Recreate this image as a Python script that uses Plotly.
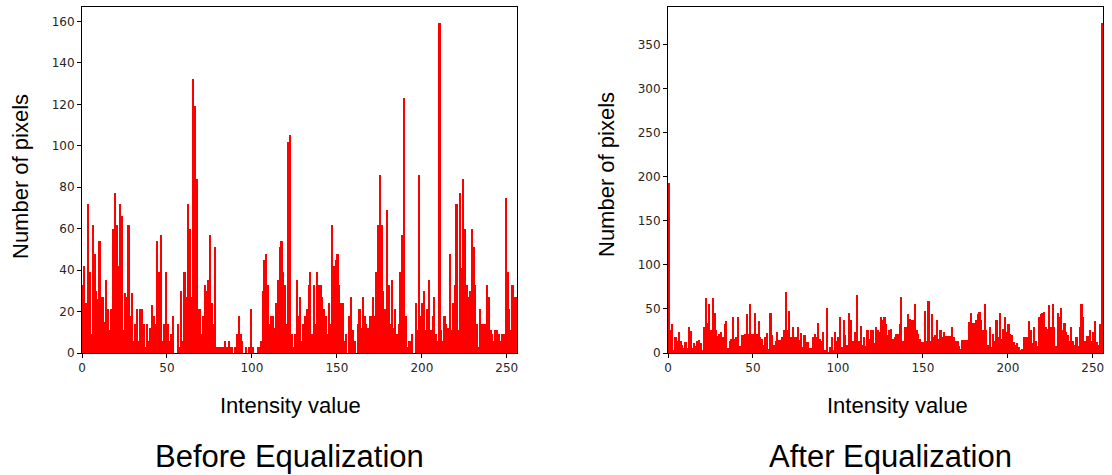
import numpy as np
import plotly.graph_objects as go

# Pixel-count histograms of an 8-bit image, one count per intensity level 0..255
intensity = np.arange(256)

before_counts = [
    33, 42, 24, 72, 39, 9, 62, 48, 30, 26,
    54, 27, 27, 15, 35, 21, 11, 21, 60, 77,
    62, 42, 72, 66, 11, 29, 27, 62, 18, 29,
    6, 14, 21, 6, 21, 21, 14, 3, 14, 6,
    12, 23, 18, 14, 54, 39, 57, 6, 14, 39,
    14, 6, 9, 18, 0, 0, 14, 3, 30, 6,
    39, 27,
    72, 60, 27, 132, 119, 84, 21, 21, 9, 18,
    33, 30, 35, 57, 24, 14, 51, 3, 3, 3,
    3, 3, 6, 3, 6, 3, 3, 0, 3, 9,
    18, 9, 6, 0, 3, 0, 3, 21, 3, 0,
    0, 3, 3, 6, 30, 45, 48, 33, 14, 18,
    18, 12, 24, 35, 51, 54, 39, 33, 14, 102,
    105, 9, 3, 9, 35, 18, 27,
    6, 14, 18, 21, 33, 39, 9, 33, 14, 39,
    33, 33, 27, 21, 18, 9, 24, 14, 62, 42,
    45, 48, 33, 24, 24, 6, 9, 0, 18, 27,
    11, 6, 0, 14, 21, 12, 27, 18, 14, 12,
    18, 18, 27, 18, 39, 62, 86, 62, 30, 21,
    69, 33, 14, 35, 12, 21, 9, 14, 39, 57,
    123, 18,
    3, 6, 6, 9, 0, 24, 11, 86, 18, 24,
    30, 11, 21, 35, 11, 18, 27, 9, 6, 159,
    11, 6, 18, 14, 12, 48, 11, 24, 33, 72,
    11, 77, 41, 84, 60, 33, 27, 30, 60, 51,
    33, 14, 3, 21, 14, 14, 14, 33, 27, 11,
    9, 6, 11, 11, 9, 6, 9, 9, 75, 39,
    21, 11, 33, 27, 27,
]

after_counts = [
    193,
    26, 33, 3, 18, 14, 24, 14, 9, 6, 12,
    6, 29, 25, 6, 11, 8, 14, 15, 11, 3,
    29, 62, 34, 56, 26, 62, 45, 26, 19, 22,
    24, 18, 33, 36, 6, 14, 16, 41, 16, 18,
    41, 8, 21, 20, 22, 44, 22, 56, 22, 22,
    45, 22, 36, 18, 16, 9, 18, 23, 5, 45,
    20, 9, 14, 24,
    15, 15, 18, 26, 69, 26, 48, 18, 30, 18,
    18, 29, 15, 23, 7, 21, 12, 12, 6, 6,
    18, 22, 18, 34, 16, 14, 24, 3, 51, 1,
    7, 18, 3, 24, 14, 18, 41, 7, 37, 20,
    9, 45, 38, 14, 14, 24, 66, 14, 31, 9,
    18, 8, 26, 16, 26, 26, 11, 29, 26, 24,
    41, 37, 41, 33, 20, 26,
    27, 16, 18, 22, 22, 33, 63, 14, 29, 29,
    44, 39, 38, 37, 56, 26, 22, 16, 12, 12,
    48, 14, 59, 14, 44, 18, 20, 37, 16, 26,
    18, 24, 19, 19, 19, 19, 30, 18, 14, 14,
    8, 4, 15, 15, 15, 15,
    35, 45, 34, 34, 37, 44, 47, 37, 26, 56,
    26, 9, 29, 7, 22, 14, 37, 18,
    45, 16, 27, 41, 24, 33, 22, 20, 12, 9,
    11, 7, 3, 5, 18, 18, 18, 36, 26, 11,
    29, 14, 8, 41, 44, 45, 47, 29, 27, 54, 29, 56,
    29, 8, 45, 41, 51, 26, 34, 24, 20, 14,
    30, 14, 9, 18, 8, 29,
    56, 41, 14, 19, 19, 26, 14, 24, 36, 12, 9, 33, 374,
]

x_ticks = [0, 50, 100, 150, 200, 250]
before_y_ticks = [0, 20, 40, 60, 80, 100, 120, 140, 160]
after_y_ticks = [0, 50, 100, 150, 200, 250, 300, 350]

panel_titles = ["Before Equalization", "After Equalization"]
x_title = "Intensity value"
y_title = "Number of pixels"

W, H = 1112, 475
BAR_RED = "#ff0000"
TICK_FONT = dict(family="DejaVu Sans", size=12, color="#262626")
LABEL_FONT = dict(family="Liberation Sans, Arial", size=22, color="#000000")
TITLE_FONT = dict(family="Liberation Sans, Arial", size=31, color="#000000")

# plot-box pixel extents for the two panels
left_box = (82, 517)
right_box = (668, 1103)
box_top, box_bottom = 7, 353

# text centres (pixels): x-label, panel title, y-label
left_text = dict(xlabel_x=290, title_x=289, ylabel_x=20, ylabel_y=177)
right_text = dict(xlabel_x=897, title_x=890, ylabel_x=606, ylabel_y=175)
xlabel_y, title_y = 405, 456


def px_x(v):
    return v / W


def px_y(v):
    return 1 - v / H


fig = go.Figure()

fig.add_trace(go.Bar(
    x=intensity + 0.5, y=before_counts, width=1.0,
    marker=dict(color=BAR_RED, line=dict(width=0)),
    xaxis="x", yaxis="y", showlegend=False, hoverinfo="x+y",
))
fig.add_trace(go.Bar(
    x=intensity + 0.5, y=after_counts, width=1.0,
    marker=dict(color=BAR_RED, line=dict(width=0)),
    xaxis="x2", yaxis="y2", showlegend=False, hoverinfo="x+y",
))

ydom = [px_y(box_bottom), px_y(box_top)]


def axis_style(**kw):
    base = dict(
        showgrid=False, zeroline=False, showline=True, mirror=True,
        linecolor="#000000", linewidth=1, ticks="outside", ticklen=4,
        tickwidth=1, tickcolor="#000000", tickfont=TICK_FONT,
        automargin=False,
    )
    base.update(kw)
    return base


fig.update_layout(
    width=W, height=H,
    margin=dict(l=0, r=0, t=0, b=0, autoexpand=False),
    paper_bgcolor="white", plot_bgcolor="white",
    bargap=0,
    xaxis=axis_style(domain=[px_x(left_box[0]), px_x(left_box[1])], range=[0, 256],
                     tickvals=x_ticks, anchor="y"),
    yaxis=axis_style(domain=ydom, range=[0, max(before_counts) * 1.05],
                     tickvals=before_y_ticks, anchor="x"),
    xaxis2=axis_style(domain=[px_x(right_box[0]), px_x(right_box[1])], range=[0, 256],
                      tickvals=x_ticks, anchor="y2"),
    yaxis2=axis_style(domain=ydom, range=[0, max(after_counts) * 1.05],
                      tickvals=after_y_ticks, anchor="x2"),
)

annotations = []
for pos, title in zip([left_text, right_text], panel_titles):
    annotations.append(dict(text=x_title, x=px_x(pos["xlabel_x"]), y=px_y(xlabel_y),
                            xref="paper", yref="paper", showarrow=False, font=LABEL_FONT,
                            xanchor="center", yanchor="middle"))
    annotations.append(dict(text=title, x=px_x(pos["title_x"]), y=px_y(title_y),
                            xref="paper", yref="paper", showarrow=False, font=TITLE_FONT,
                            xanchor="center", yanchor="middle"))
    annotations.append(dict(text=y_title, x=px_x(pos["ylabel_x"]), y=px_y(pos["ylabel_y"]),
                            xref="paper", yref="paper", showarrow=False, font=LABEL_FONT,
                            textangle=-90, xanchor="center", yanchor="middle"))
fig.update_layout(annotations=annotations)

fig.write_html("out.html")
